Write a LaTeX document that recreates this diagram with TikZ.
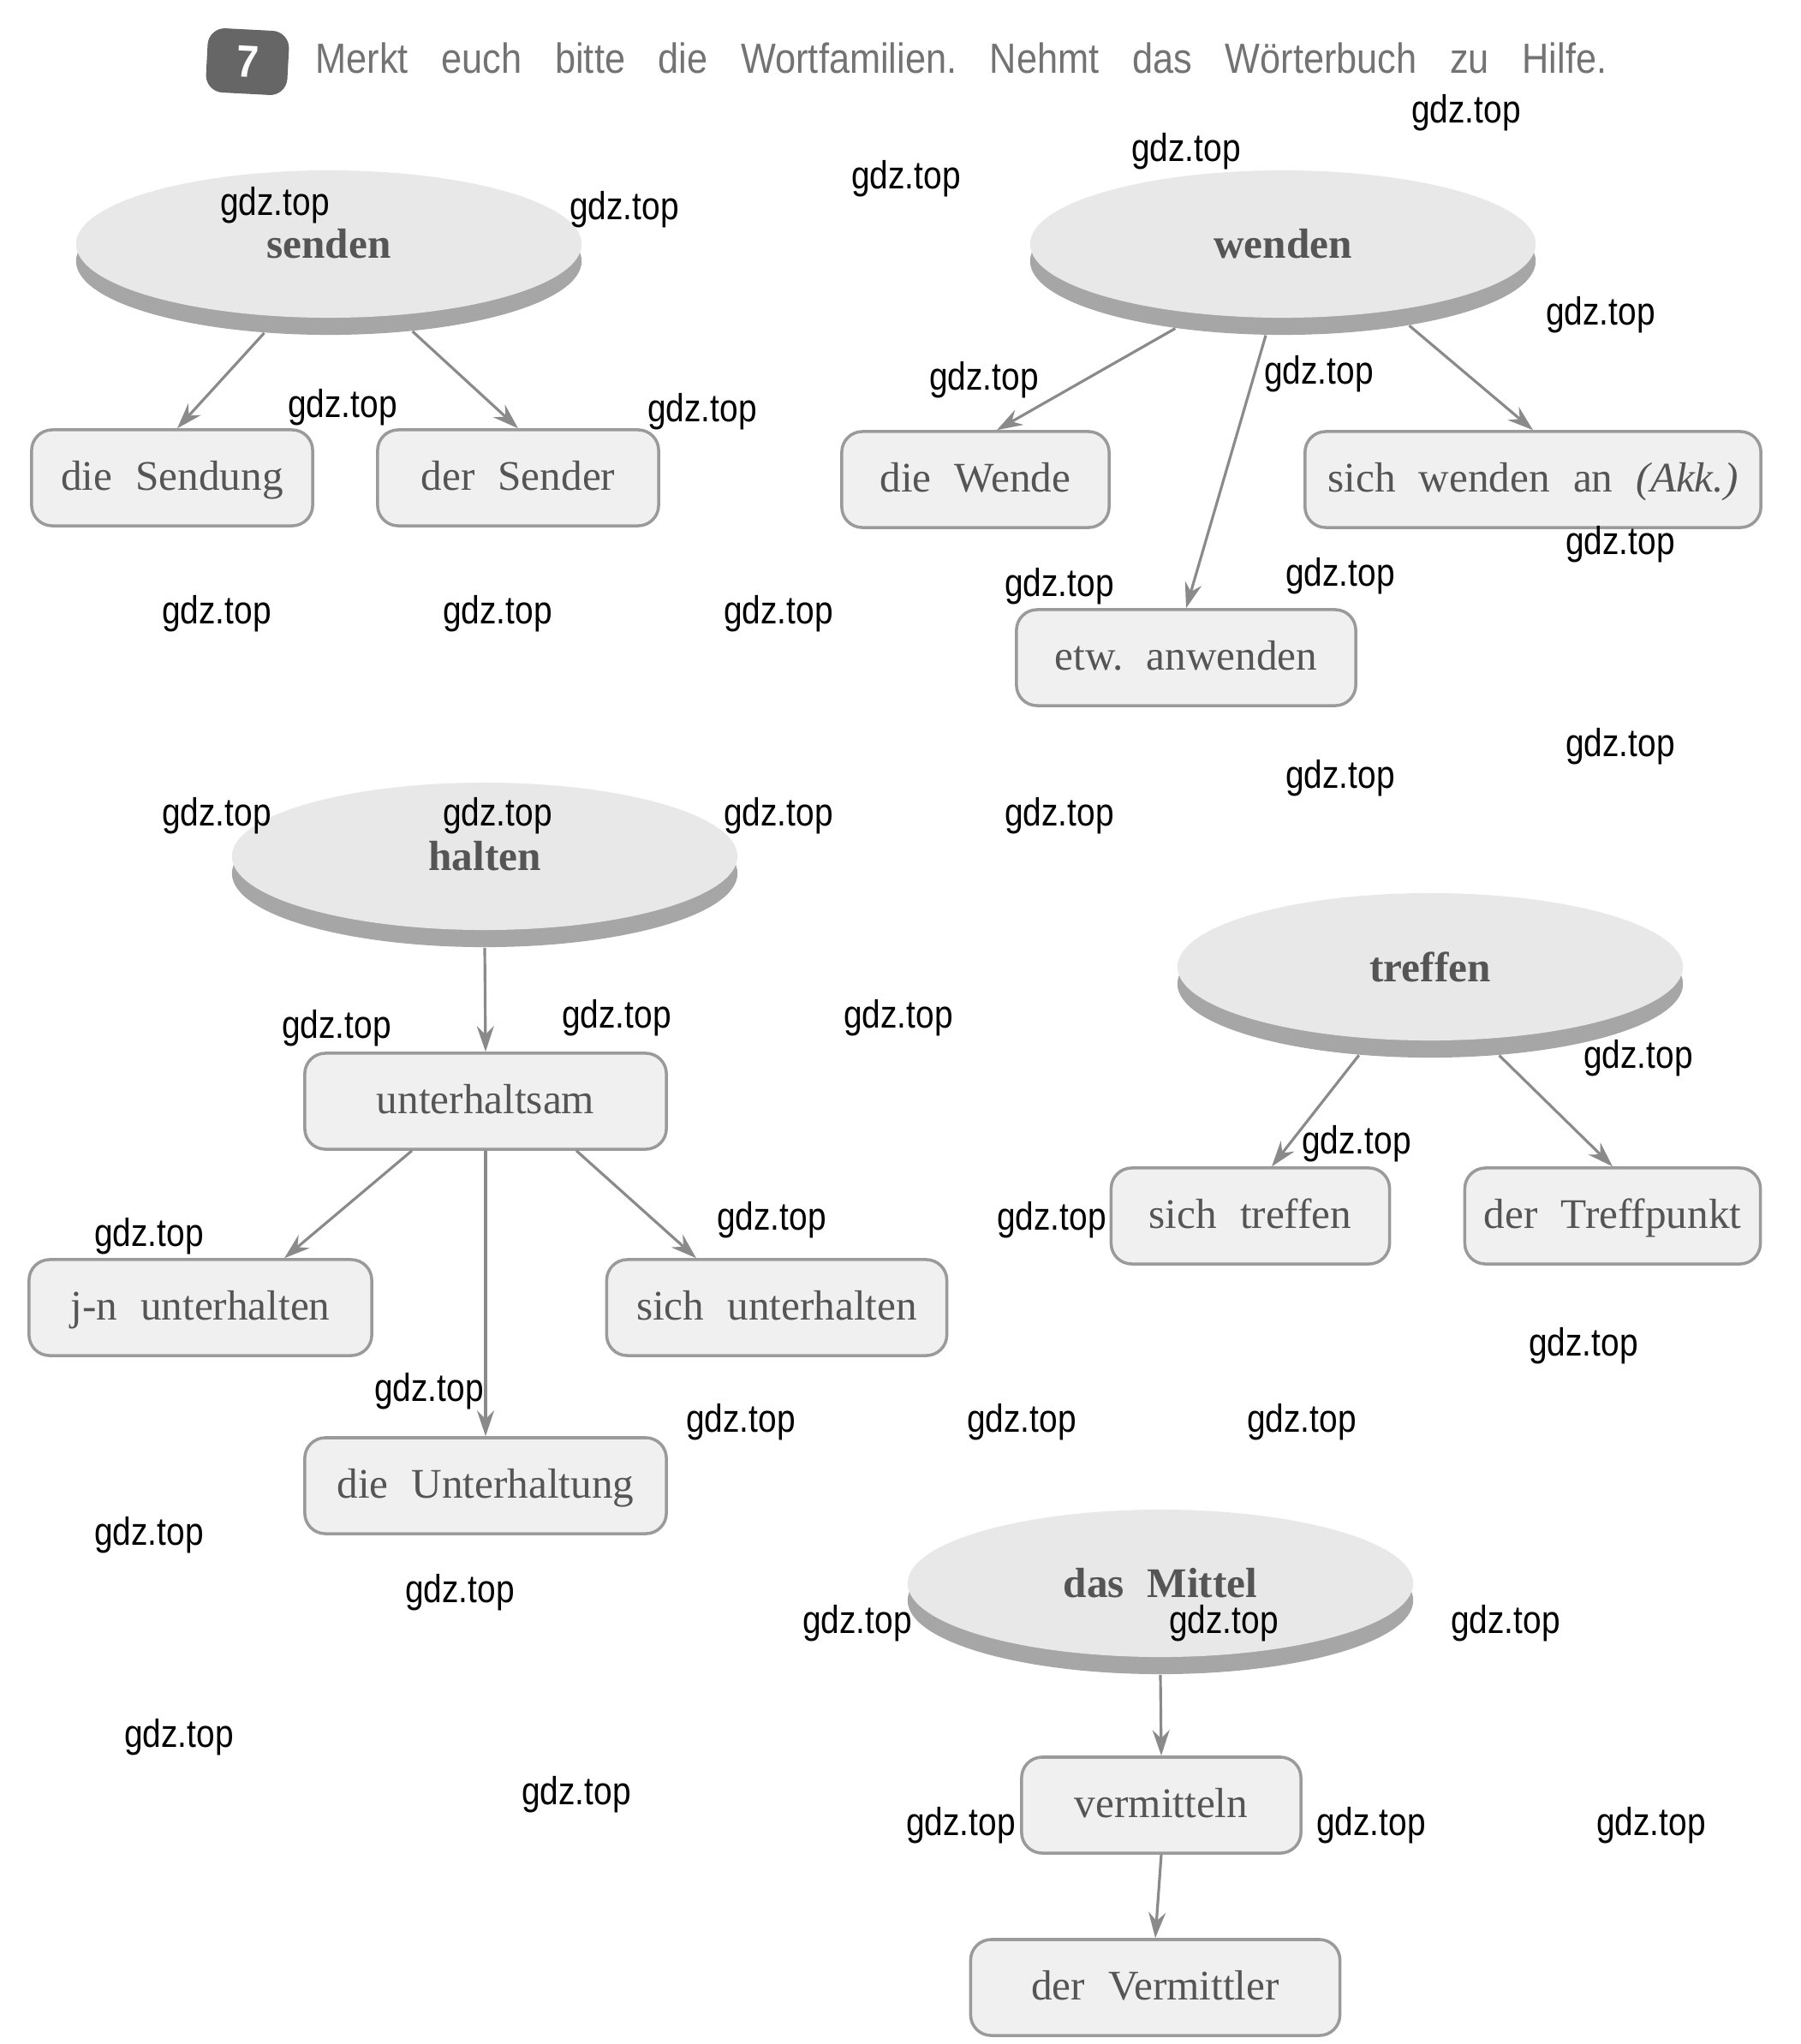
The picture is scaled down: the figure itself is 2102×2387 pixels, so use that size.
\documentclass[tikz,border=0pt]{standalone}
\usepackage{fontspec}
\setmainfont{Liberation Serif}[WordSpace=2.2]
\newfontfamily\headfont{Liberation Sans}[FakeStretch=0.88]
\newfontfamily\gdzfont{Liberation Sans}[FakeStretch=0.85]
\usetikzlibrary{shapes.geometric, shadows, arrows.meta}
\frenchspacing

\definecolor{facegray}{HTML}{E8E8E8}
\definecolor{rimgray}{HTML}{A6A6A6}
\definecolor{boxgray}{HTML}{F0F0F0}
\definecolor{linegray}{HTML}{9A9A9A}
\definecolor{arrowgray}{HTML}{8A8A8A}
\definecolor{textgray}{HTML}{555555}

\tikzset{
  root/.style={ellipse, fill=facegray, minimum width=5.9cm, minimum height=1.72cm,
    inner sep=0pt, text=textgray, font=\fontsize{14}{16}\selectfont\bfseries,
    drop shadow={shadow xshift=0cm, shadow yshift=-0.2cm, opacity=1, fill=rimgray}},
  word/.style={draw=linegray, line width=1pt, fill=boxgray, rounded corners=0.24cm,
    minimum height=1.12cm, text height=11pt, text depth=2.5pt, text=textgray,
    font=\fontsize{14}{16}\selectfont},
  link/.style={draw=arrowgray, line width=0.9pt,
    -{Stealth[length=0.3cm, width=0.2cm, inset=0.1cm]}},
  gdz/.style={text=black, font=\gdzfont\fontsize{13}{15}\selectfont, inner sep=0pt}
}

\begin{document}
\begin{tikzpicture}[x=0.01cm, y=-0.01cm]
  \useasboundingbox (0,0) rectangle (2102,2387);

  % task line
  \node[fill=gray!80!black, text=white, rounded corners=0.2cm, rotate=-3,
        minimum width=0.95cm, minimum height=0.75cm,
        font=\headfont\bfseries\fontsize{15}{17}\selectfont] (num) at (289,72) {7};
  \node[anchor=west, text=gray!90!black, inner sep=0pt,
        font=\headfont\fontsize{14}{16}\selectfont] (task) at (368,68)
        {\makebox[15.07cm][s]{Merkt euch bitte die Wortfamilien. Nehmt das Wörterbuch zu Hilfe.}};

  % word families
  \node[root] (senden) at (384,285) {senden};
  \node[root] (wenden) at (1498,285) {wenden};
  \node[root] (halten) at (566,1000) {halten};
  \node[root] (treffen) at (1670,1129) {treffen};
  \node[root] (mittel) at (1355,1849) {das\ Mittel};

  \node[word, minimum width=3.28cm] (sendung) at (201,558) {die Sendung};
  \node[word, minimum width=3.28cm] (sender) at (605,558) {der Sender};
  \node[word, minimum width=3.12cm] (wende) at (1139,560) {die Wende};
  \node[word, minimum width=5.32cm] (wendenan) at (1790,560) {sich wenden an \textit{(Akk.)}};
  \node[word, minimum width=3.96cm] (anwenden) at (1385,768) {etw. anwenden};
  \node[word, minimum width=4.22cm] (sam) at (567,1286) {unterhaltsam};
  \node[word, minimum width=4.00cm] (jn) at (234,1527) {j-n unterhalten};
  \node[word, minimum width=3.97cm] (sichunt) at (907,1527) {sich unterhalten};
  \node[word, minimum width=4.22cm] (haltung) at (567,1735) {die Unterhaltung};
  \node[word, minimum width=3.25cm] (sichtr) at (1460,1420) {sich treffen};
  \node[word, minimum width=3.45cm] (punkt) at (1883,1420) {der Treffpunkt};
  \node[word, minimum width=3.26cm] (verm) at (1356,2108) {vermitteln};
  \node[word, minimum width=4.31cm] (vermittler) at (1349,2321) {der Vermittler};

  % arrows
  \draw[link] ([yshift=-0.2cm]senden.-132) -- ([xshift=0.06cm]sendung.north);
  \draw[link] ([yshift=-0.2cm]senden.-40) -- (sender.north);
  \draw[link] ([yshift=-0.2cm]wenden.-148) -- ([xshift=0.25cm]wende.north);
  \draw[link] ([yshift=-0.2cm]wenden.-103) -- (anwenden.north);
  \draw[link] ([yshift=-0.2cm]wenden.-27) -- (wendenan.north);
  \draw[link] ([yshift=-0.2cm]halten.south) -- (sam.north);
  \draw[link] ([xshift=-0.86cm]sam.south) -- ([xshift=0.98cm]jn.north);
  \draw[link] (sam.south) -- (haltung.north);
  \draw[link] ([xshift=1.06cm]sam.south) -- ([xshift=-0.94cm]sichunt.north);
  \draw[link] ([yshift=-0.2cm]treffen.-135) -- ([xshift=0.25cm]sichtr.north);
  \draw[link] ([yshift=-0.2cm]treffen.-46) -- (punkt.north);
  \draw[link] ([yshift=-0.2cm]mittel.south) -- (verm.north);
  \draw[link] (verm.south) -- (vermittler.north);

  % watermarks
  \foreach \x/\y [count=\i] in {1712/132, 1385/177, 1058/209, 321/240, 729/245,
      1869/368, 1149/444, 1540/437, 400/476, 820/481, 1892/636, 1237/685,
      1565/673, 253/717, 581/717, 909/717, 1892/872, 1565/909, 253/953,
      581/953, 909/953, 1237/953, 393/1201, 720/1189, 1049/1189, 1913/1236,
      1584/1336, 1228/1425, 901/1425, 174/1444, 1849/1572, 501/1625,
      865/1661, 1193/1661, 1520/1661, 174/1793, 537/1860, 1001/1896,
      1429/1896, 1758/1896, 209/2029, 673/2096, 1122/2132, 1601/2132,
      1928/2132}
    \node[gdz] (gdz\i) at (\x,\y) {gdz.top};
\end{tikzpicture}
\end{document}
